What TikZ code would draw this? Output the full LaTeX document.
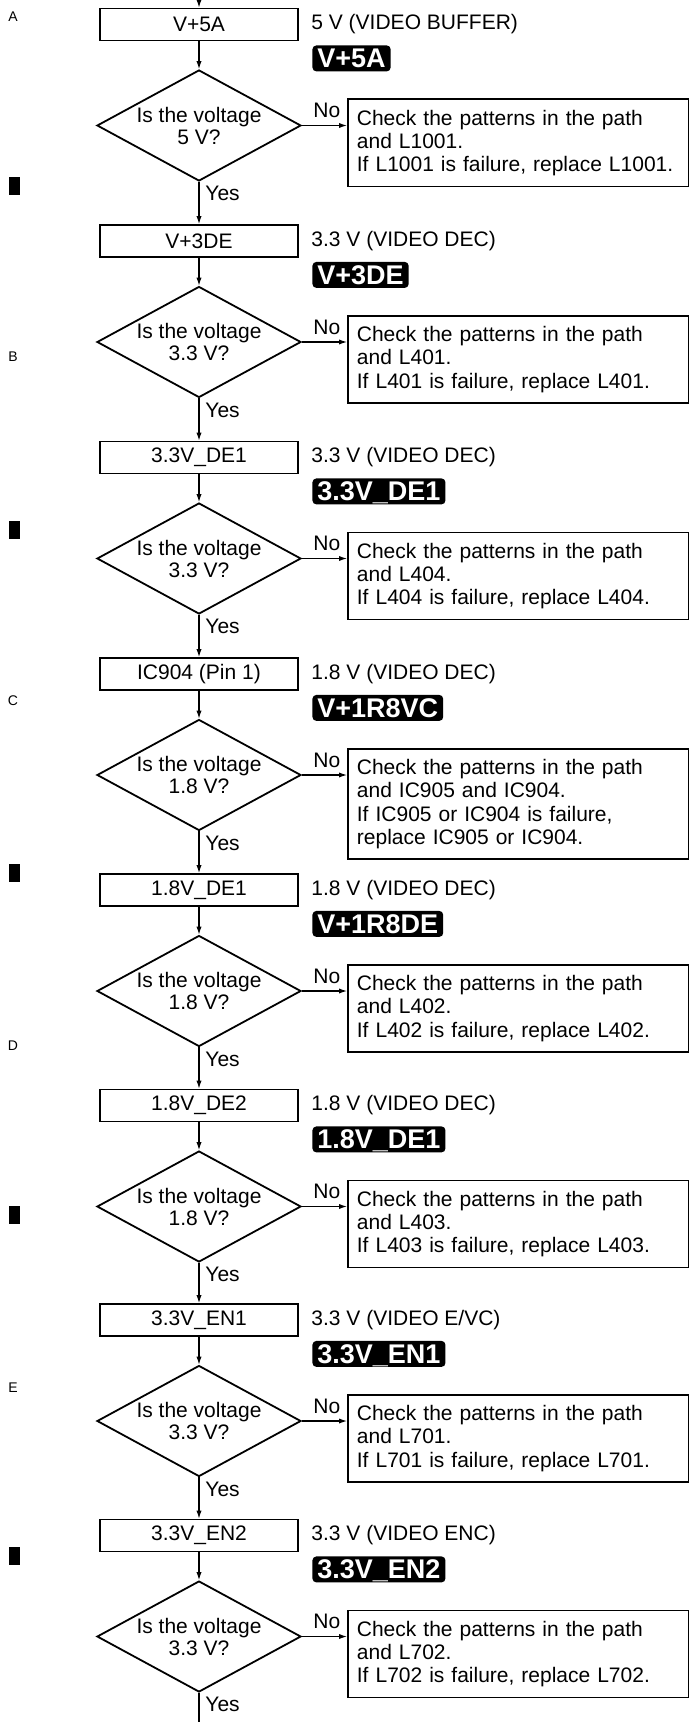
\documentclass[tikz,border=0pt]{standalone}
\usepackage{fontspec}
\setmainfont{Liberation Sans}
\usetikzlibrary{shapes.geometric,arrows.meta}
\newcommand{\flowpart}[7]{%
  \node[vbox] (b#1) at (199,#2) {#3};
  \node[vlabel] (l#1) at (311,#2) {#4};
  \node[badge] (g#1) at (312,#2+20.5) {#5};
  \node[dia,label={[diatext]center:Is the voltage\\#6}] (d#1) at (199,#2+101) {};
  \node[chk] (k#1) at (347,#2+74) {#7};
  \draw[conn] (b#1) -- (d#1);
  \draw[conn] (d#1.east) -- (d#1.east -| k#1.west);
  \node[yn] (n#1) at (313,#2+86) {No};
  \node[yn] (y#1) at (205,#2+169) {Yes};
}
\begin{document}
\begin{tikzpicture}[x=0.5pt,y=-0.5pt,
  vbox/.style={draw,line width=0.9pt,minimum width=99pt,minimum height=16pt,inner sep=0pt,font=\fontsize{10.5pt}{12pt}\selectfont},
  dia/.style={draw,shape=diamond,line width=0.9pt,minimum width=102pt,minimum height=55.5pt,inner sep=0pt},
  diatext/.style={align=center,inner sep=0pt,font=\fontsize{10.5pt}{11pt}\selectfont},
  chk/.style={draw,line width=0.9pt,anchor=north west,text width=161.5pt,inner xsep=4.5pt,inner ysep=5.3pt,align=left,font=\fontsize{10.5pt}{11.6pt}\selectfont},
  vlabel/.style={anchor=west,inner sep=0pt,font=\fontsize{10.5pt}{12pt}\selectfont},
  badge/.style={anchor=north west,fill=black,text=white,rounded corners=2pt,inner xsep=2.5pt,inner ysep=1.5pt,text height=9.7pt,text depth=0.3pt,font=\bfseries\fontsize{13.5pt}{14pt}\selectfont},
  yn/.style={anchor=west,inner sep=0pt,font=\fontsize{10.5pt}{12pt}\selectfont},
  conn/.style={line width=0.55pt,-{Latex[length=4pt,width=2.6pt]}},
  side/.style={font=\fontsize{7pt}{8pt}\selectfont,inner sep=0pt},
  bar/.style={fill=black,minimum width=5.5pt,minimum height=9pt,inner sep=0pt}
]
\useasboundingbox (0,0) rectangle (689,1722);

\flowpart{1}{24.5}{V+5A}{5 V (VIDEO BUFFER)}{V+5A}{5 V?}{Check the patterns in the path\\and L1001.\\If L1001 is failure, replace L1001.}
\flowpart{2}{241}{V+3DE}{3.3 V (VIDEO DEC)}{V+3DE}{3.3 V?}{Check the patterns in the path\\and L401.\\If L401 is failure, replace L401.}
\flowpart{3}{457.5}{3.3V\_DE1}{3.3 V (VIDEO DEC)}{3.3V\_DE1}{3.3 V?}{Check the patterns in the path\\and L404.\\If L404 is failure, replace L404.}
\flowpart{4}{674}{IC904 (Pin 1)}{1.8 V (VIDEO DEC)}{V+1R8VC}{1.8 V?}{Check the patterns in the path\\and IC905 and IC904.\\If IC905 or IC904 is failure,\\replace IC905 or IC904.}
\flowpart{5}{890}{1.8V\_DE1}{1.8 V (VIDEO DEC)}{V+1R8DE}{1.8 V?}{Check the patterns in the path\\and L402.\\If L402 is failure, replace L402.}
\flowpart{6}{1105.5}{1.8V\_DE2}{1.8 V (VIDEO DEC)}{1.8V\_DE1}{1.8 V?}{Check the patterns in the path\\and L403.\\If L403 is failure, replace L403.}
\flowpart{7}{1320}{3.3V\_EN1}{3.3 V (VIDEO E/VC)}{3.3V\_EN1}{3.3 V?}{Check the patterns in the path\\and L701.\\If L701 is failure, replace L701.}
\flowpart{8}{1535.5}{3.3V\_EN2}{3.3 V (VIDEO ENC)}{3.3V\_EN2}{3.3 V?}{Check the patterns in the path\\and L702.\\If L702 is failure, replace L702.}

\coordinate (top) at (199,0);
\coordinate (bot) at (199,1722);
\draw[conn] (top) -- (b1);
\draw[conn] (d1) -- (b2);
\draw[conn] (d2) -- (b3);
\draw[conn] (d3) -- (b4);
\draw[conn] (d4) -- (b5);
\draw[conn] (d5) -- (b6);
\draw[conn] (d6) -- (b7);
\draw[conn] (d7) -- (b8);
\draw[line width=0.55pt] (d8) -- (bot);

\node[side] (sA) at (13,17) {A};
\node[side] (sB) at (13,357) {B};
\node[side] (sC) at (13,701) {C};
\node[side] (sD) at (13,1046) {D};
\node[side] (sE) at (13,1388) {E};
\node[bar] (m1) at (14.5,186) {};
\node[bar] (m2) at (14.5,529.5) {};
\node[bar] (m3) at (14.5,872.5) {};
\node[bar] (m4) at (14.5,1215) {};
\node[bar] (m5) at (14.5,1556) {};
\end{tikzpicture}
\end{document}
